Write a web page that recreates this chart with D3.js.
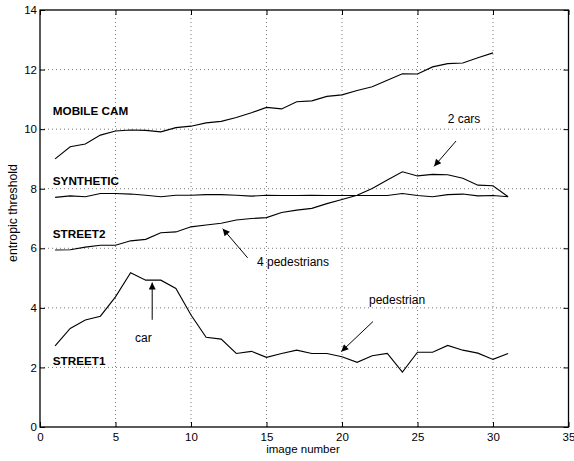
<html>
<head>
<script src="https://cdn.jsdelivr.net/npm/d3@7"></script>
<style>
body { margin: 0; background: #fff; }
text { font-family: "Liberation Sans", Arial, sans-serif; }
</style>
</head>
<body>
<script>
// image numbers
var mobileX = d3.range(1, 31);
var otherX = d3.range(1, 32);

var mobileCam = [9.0, 9.41, 9.5, 9.8, 9.94, 9.97, 9.96, 9.91, 10.05, 10.1,
	10.21, 10.26, 10.39, 10.55, 10.73, 10.68, 10.92, 10.95, 11.1, 11.15,
	11.3, 11.42, 11.64, 11.86, 11.85, 12.09, 12.2, 12.22, 12.4, 12.56];

var synthetic = [7.71, 7.76, 7.73, 7.84, 7.84, 7.82, 7.78, 7.73, 7.78, 7.78,
	7.8, 7.8, 7.78, 7.75, 7.78, 7.77, 7.77, 7.78, 7.77, 7.77,
	7.77, 7.77, 7.77, 7.84, 7.77, 7.73, 7.8, 7.82, 7.76, 7.77, 7.73];

var street2 = [5.94, 5.95, 6.04, 6.1, 6.1, 6.25, 6.3, 6.52, 6.55, 6.72,
	6.78, 6.84, 6.95, 7.0, 7.03, 7.2, 7.28, 7.34, 7.5, 7.64,
	7.78, 8.01, 8.29, 8.57, 8.43, 8.48, 8.47, 8.35, 8.12, 8.1, 7.73];

var street1 = [2.72, 3.31, 3.59, 3.72, 4.37, 5.18, 4.93, 4.93, 4.65, 3.76,
	3.01, 2.95, 2.47, 2.54, 2.34, 2.47, 2.58, 2.47, 2.47, 2.36,
	2.17, 2.39, 2.47, 1.84, 2.51, 2.51, 2.74, 2.58, 2.48, 2.27, 2.47];

var xTicks = [0, 5, 10, 15, 20, 25, 30, 35];
var yTicks = [0, 2, 4, 6, 8, 10, 12, 14];

var seriesLabels = [
	{ text: "MOBILE CAM", x: 0.85, y: 10.49 },
	{ text: "SYNTHETIC", x: 0.85, y: 8.12 },
	{ text: "STREET2", x: 0.85, y: 6.36 },
	{ text: "STREET1", x: 0.85, y: 2.08 }
];

// annotations: text position and arrow from -> to (data units)
var notes = [
	{ text: "car", tx: 6.29, ty: 2.85, x1: 7.43, y1: 3.6, x2: 7.43, y2: 4.85 },
	{ text: "4 pedestrians", tx: 14.37, ty: 5.42, x1: 13.75, y1: 5.68, x2: 12.1, y2: 6.66 },
	{ text: "2 cars", tx: 27.0, ty: 10.2, x1: 27.55, y1: 9.6, x2: 26.1, y2: 8.75 },
	{ text: "pedestrian", tx: 21.79, ty: 4.13, x1: 22.05, y1: 3.54, x2: 19.95, y2: 2.53 }
];

var width = 574,
	height = 461,
	mLeft = 40,
	mRight = 568.5,
	mTop = 10,
	mBottom = 427;

var x = d3.scaleLinear().domain([0, 35]).range([mLeft, mRight]);
var y = d3.scaleLinear().domain([0, 14]).range([mBottom, mTop]);

var svg = d3.select("body").append("svg")
	.attr("width", width)
	.attr("height", height);

svg.append("defs").append("marker")
	.attr("id", "head")
	.attr("viewBox", "0 0 10 10")
	.attr("refX", 10).attr("refY", 5)
	.attr("markerWidth", 9).attr("markerHeight", 7)
	.attr("markerUnits", "userSpaceOnUse")
	.attr("orient", "auto")
	.append("path")
	.attr("d", "M0,0 L10,5 L0,10 z")
	.attr("fill", "#000");

// grid
var grid = svg.append("g")
	.attr("stroke", "#555")
	.attr("stroke-width", 0.8)
	.attr("stroke-dasharray", "1,3");

grid.selectAll(".gx").data(xTicks.slice(1, -1)).enter().append("line")
	.attr("x1", d => x(d)).attr("x2", d => x(d))
	.attr("y1", mTop).attr("y2", mBottom);

grid.selectAll(".gy").data(yTicks.slice(1, -1)).enter().append("line")
	.attr("x1", mLeft).attr("x2", mRight)
	.attr("y1", d => y(d)).attr("y2", d => y(d));

// axes with inward ticks on all four sides
var tickLen = 5;
var xAxis = d3.axisBottom(x).tickValues(xTicks).tickSize(-tickLen).tickPadding(6);
var yAxis = d3.axisLeft(y).tickValues(yTicks).tickSize(-tickLen).tickPadding(3);

var gx = svg.append("g").attr("transform", "translate(0," + mBottom + ")").call(xAxis);
var gy = svg.append("g").attr("transform", "translate(" + mLeft + ",0)").call(yAxis);
var gxt = svg.append("g").attr("transform", "translate(0," + mTop + ")")
	.call(d3.axisTop(x).tickValues(xTicks).tickSize(-tickLen).tickFormat(""));
var gyr = svg.append("g").attr("transform", "translate(" + mRight + ",0)")
	.call(d3.axisRight(y).tickValues(yTicks).tickSize(-tickLen).tickFormat(""));

[gx, gy, gxt, gyr].forEach(function(g) {
	g.select(".domain").remove();
	g.selectAll("line").attr("stroke", "#000").attr("stroke-width", 1);
	g.selectAll("text").attr("fill", "#000")
		.style("font-size", "11.5px")
		.style("font-family", "Liberation Sans, Arial, sans-serif");
});

svg.append("rect")
	.attr("x", mLeft).attr("y", mTop)
	.attr("width", mRight - mLeft).attr("height", mBottom - mTop)
	.attr("fill", "none").attr("stroke", "#000").attr("stroke-width", 1.3);

// series lines
var line = d3.line().x(d => x(d[0])).y(d => y(d[1]));
var series = [
	mobileX.map((d, i) => [d, mobileCam[i]]),
	otherX.map((d, i) => [d, synthetic[i]]),
	otherX.map((d, i) => [d, street2[i]]),
	otherX.map((d, i) => [d, street1[i]])
];

svg.selectAll(".series").data(series).enter().append("path")
	.attr("d", line)
	.attr("fill", "none")
	.attr("stroke", "#000")
	.attr("stroke-width", 1.1);

// series labels
svg.selectAll(".slabel").data(seriesLabels).enter().append("text")
	.attr("x", d => x(d.x))
	.attr("y", d => y(d.y))
	.attr("font-size", "11.7px")
	.attr("font-weight", "bold")
	.text(d => d.text);

// annotations
svg.selectAll(".ntext").data(notes).enter().append("text")
	.attr("x", d => x(d.tx))
	.attr("y", d => y(d.ty))
	.attr("font-size", "12px")
	.text(d => d.text);

svg.selectAll(".narrow").data(notes).enter().append("line")
	.attr("x1", d => x(d.x1)).attr("y1", d => y(d.y1))
	.attr("x2", d => x(d.x2)).attr("y2", d => y(d.y2))
	.attr("stroke", "#000")
	.attr("stroke-width", 1)
	.attr("marker-end", "url(#head)");

// axis titles
svg.append("text")
	.attr("x", 303)
	.attr("y", 453)
	.attr("text-anchor", "middle")
	.attr("font-size", "11.5px")
	.text("image number");

svg.append("text")
	.attr("transform", "translate(16.5,213) rotate(-90)")
	.attr("text-anchor", "middle")
	.attr("font-size", "12.3px")
	.text("entropic threshold");
</script>
</body>
</html>
